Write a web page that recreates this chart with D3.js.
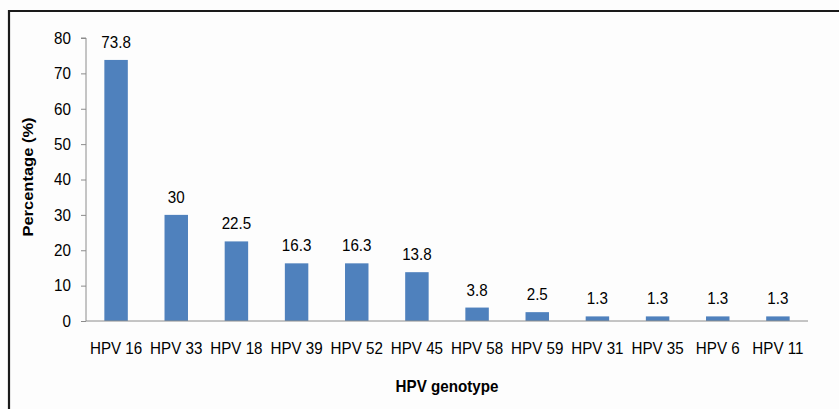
<!DOCTYPE html>
<html><head><meta charset="utf-8">
<script src="https://cdn.jsdelivr.net/npm/d3@7"></script>
<style>body{margin:0;background:#fff}svg{display:block}text{font-family:"Liberation Sans",Arial,sans-serif;fill:#000}</style>
</head><body>
<svg id="c" width="839" height="409"></svg>
<script>
const categories = ["HPV 16","HPV 33","HPV 18","HPV 39","HPV 52","HPV 45","HPV 58","HPV 59","HPV 31","HPV 35","HPV 6","HPV 11"];
const values = [73.8,30,22.5,16.3,16.3,13.8,3.8,2.5,1.3,1.3,1.3,1.3];
const valueLabels = ["73.8","30","22.5","16.3","16.3","13.8","3.8","2.5","1.3","1.3","1.3","1.3"];
const yTicks = [0,10,20,30,40,50,60,70,80];

const svg = d3.select("#c");
svg.append("rect").attr("width",839).attr("height",409).attr("fill","#fdfdfd");
svg.append("path").attr("d","M9,409V11H839").attr("fill","none").attr("stroke","#1a1a1a").attr("stroke-width",2.2);

const x = d3.scaleBand().domain(categories).range([86,808]).paddingInner(0.61).paddingOuter(0.305);
const y = d3.scaleLinear().domain([0,80]).range([321,38]);
const FS = 16.5, SX = 0.92;

const gy = svg.append("g").attr("transform","translate(86,0)")
  .call(d3.axisLeft(y).tickValues(yTicks).tickSize(5).tickPadding(0).tickFormat(d3.format("d")));
gy.select(".domain").attr("stroke","#8c8c8c").attr("d","M-5,"+y(80)+"H0V"+y(0));
gy.selectAll(".tick line").attr("stroke","#8c8c8c");
gy.selectAll("text").attr("x",0).attr("font-size",FS).attr("font-family","Liberation Sans, Arial, sans-serif").attr("fill","#000")
  .attr("transform","translate(-15,0) scale("+SX+",1)");

svg.append("g").selectAll("rect").data(values).join("rect")
  .attr("x",(d,i)=>x(categories[i])).attr("width",x.bandwidth())
  .attr("y",d=>y(d)).attr("height",d=>y(0)-y(d)).attr("fill","#4f81bd");

const gx = svg.append("g").attr("transform","translate(0,321)")
  .call(d3.axisBottom(x).tickSize(0).tickPadding(21));
gx.select(".domain").attr("stroke","#8c8c8c").attr("d","M86,0H808");
gx.selectAll("text").attr("font-size",FS).attr("font-family","Liberation Sans, Arial, sans-serif").attr("fill","#000")
  .attr("transform","scale("+SX+",1)");

svg.append("g").selectAll("text").data(values).join("text")
  .attr("transform",(d,i)=>"translate("+(x(categories[i])+x.bandwidth()/2)+","+(y(d)-12)+") scale("+SX+",1)")
  .attr("text-anchor","middle").attr("font-size",FS).text((d,i)=>valueLabels[i]);

svg.append("text").attr("transform","translate(447,392) scale("+SX+",1)").attr("text-anchor","middle")
  .attr("font-size",FS).attr("font-weight","bold").text("HPV genotype");
svg.append("text").attr("transform","translate(33,177) rotate(-90) scale(1,"+SX+")").attr("text-anchor","middle")
  .attr("font-size",FS).attr("font-weight","bold").text("Percentage (%)");
</script>
</body></html>
